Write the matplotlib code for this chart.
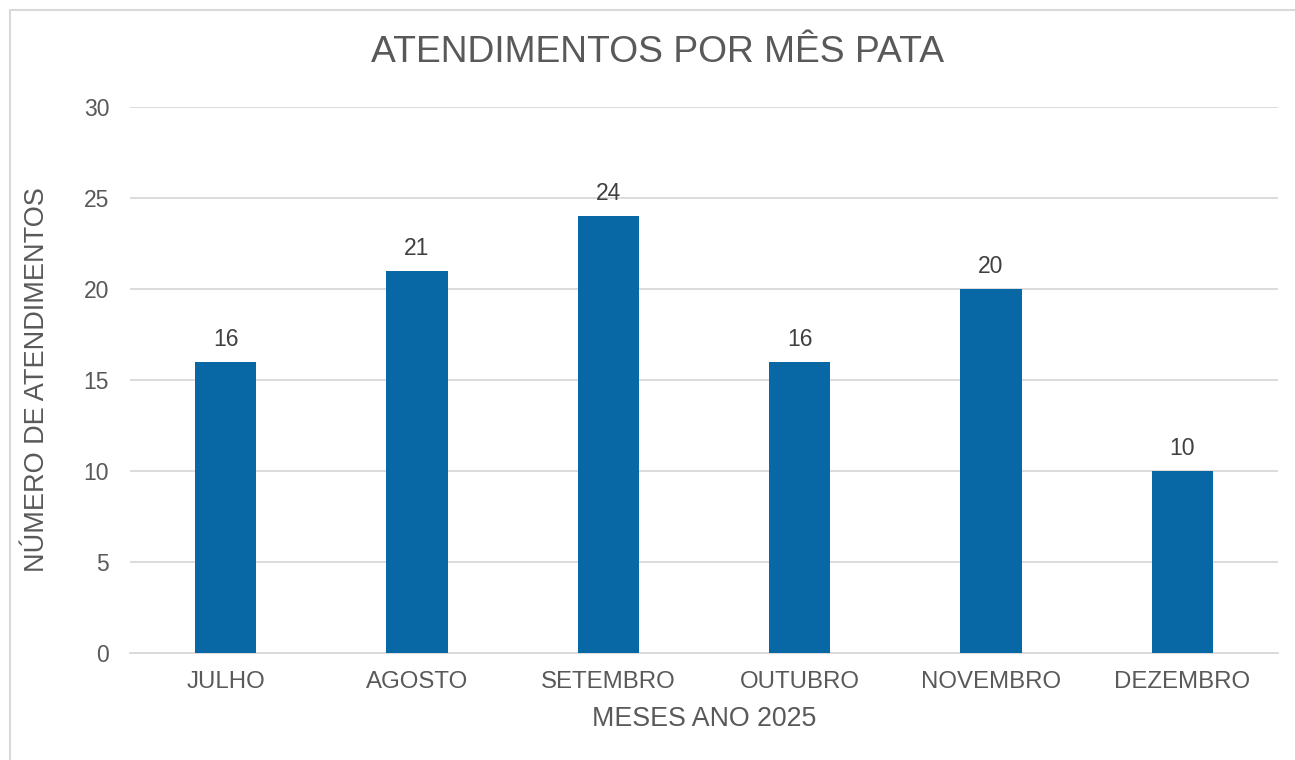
import matplotlib
matplotlib.use('Agg')
import matplotlib.pyplot as plt
from matplotlib.patches import Rectangle

meses = ['JULHO', 'AGOSTO', 'SETEMBRO', 'OUTUBRO', 'NOVEMBRO', 'DEZEMBRO']
atendimentos = [16, 21, 24, 16, 20, 10]
yticks = [0, 5, 10, 15, 20, 25, 30]

cor_barra = '#0768A5'
cor_texto = '#595959'
cor_grade = '#D9D9D9'

plt.rcParams['font.family'] = ['Liberation Sans', 'DejaVu Sans']

fig = plt.figure(figsize=(12.95, 7.6), dpi=100)
ax = fig.add_axes([130/1295, 1 - 653/760, (1278-130)/1295, (653-107)/760])

x = range(len(meses))
bars = ax.bar(x, atendimentos, width=0.32, color=cor_barra, zorder=3)

# rótulos de dados acima das barras
for b, v in zip(bars, atendimentos):
    ax.annotate(str(v), (b.get_x() + b.get_width()/2, v), xytext=(0, 8),
                textcoords='offset points', ha='center', va='bottom',
                fontsize=16.5, color='#404040')

ax.set_xlim(-0.5, len(meses) - 0.5)
ax.set_ylim(0, 30)
ax.set_yticks(yticks)
ax.set_xticks(list(x))
ax.set_xticklabels(meses)
ax.tick_params(axis='x', length=0, pad=13, labelsize=17.3, labelcolor=cor_texto)
ax.tick_params(axis='y', length=0, pad=15, labelsize=16.5, labelcolor=cor_texto)
ax.grid(axis='y', color=cor_grade, linewidth=1.3, zorder=0)
for s in ['top', 'right', 'left']:
    ax.spines[s].set_visible(False)
ax.spines['bottom'].set_color(cor_grade)
ax.spines['bottom'].set_linewidth(1.3)

ax.set_xlabel('MESES ANO 2025', fontsize=19.3, color=cor_texto, labelpad=9)
ax.set_ylabel('NÚMERO DE ATENDIMENTOS', fontsize=19.5, color=cor_texto, labelpad=24)
fig.text(658/1295, 1 - 53/760, 'ATENDIMENTOS POR MÊS PATA', fontsize=26.8,
         color=cor_texto, ha='center', va='center')

# moldura do gráfico (só esquerda e topo aparecem)
fig.patches.append(Rectangle((10/1295, -0.05), 1.1, 1.05 - 10/760,
                             transform=fig.transFigure, fill=False,
                             edgecolor=cor_grade, linewidth=1.5))

fig.savefig('out.png', dpi=100, facecolor='white')
